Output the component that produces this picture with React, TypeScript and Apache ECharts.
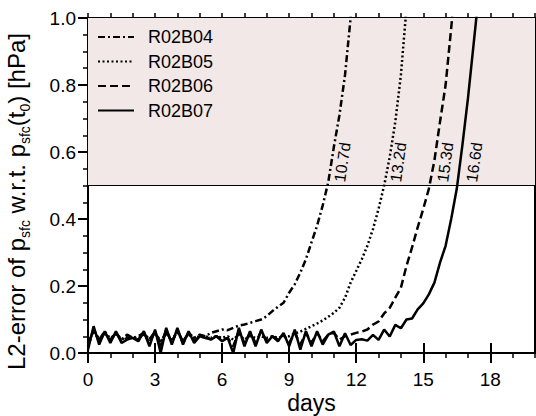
import React, { useEffect, useRef } from "react";
import * as echarts from "echarts";

// sampling times (days), 6-hourly output
const days = [
  0, 0.25, 0.5, 0.75, 1, 1.25, 1.5, 1.75, 2, 2.25, 2.5, 2.75, 3, 3.25, 3.5, 3.75,
  4, 4.25, 4.5, 4.75, 5, 5.25, 5.5, 5.75, 6, 6.25, 6.5, 6.75, 7, 7.25, 7.5, 7.75,
  8, 8.25, 8.5, 8.75, 9, 9.25, 9.5, 9.75, 10, 10.25, 10.5, 10.75, 11, 11.25, 11.5, 11.75,
  12, 12.25, 12.5, 12.75, 13, 13.25, 13.5, 13.75, 14, 14.25, 14.5, 14.75, 15, 15.25, 15.5, 15.75,
  16, 16.25, 16.5, 16.75, 17, 17.25, 17.5,
];

const r02b04 = [
  0.02, 0.07, 0.04, 0.065, 0.035, 0.06, 0.04, 0.055, 0.045, 0.05, 0.06, 0.04, 0.065, 0.03, 0.06, 0.035,
  0.065, 0.035, 0.06, 0.045, 0.055, 0.05,
  0.06, 0.065, 0.07, 0.068, 0.075, 0.082, 0.085, 0.09, 0.095, 0.1, 0.11, 0.125, 0.138, 0.15,
  0.18, 0.205, 0.24, 0.28, 0.33, 0.38, 0.44, 0.51, 0.615, 0.71, 0.83, 1.0, 1.2,
];

const r02b05 = [
  0.03, 0.065, 0.04, 0.06, 0.045, 0.055, 0.04, 0.05, 0.045, 0.045, 0.055, 0.04, 0.06, 0.035, 0.06, 0.04,
  0.06, 0.04, 0.055, 0.045, 0.05, 0.05, 0.045, 0.05, 0.045, 0.05, 0.04, 0.055, 0.04, 0.05, 0.045, 0.05,
  0.045, 0.05, 0.045, 0.05,
  0.05, 0.058, 0.064, 0.072, 0.08, 0.088, 0.097, 0.108, 0.12, 0.135, 0.165, 0.21, 0.245, 0.28, 0.32, 0.37,
  0.43, 0.5, 0.585, 0.69, 0.83, 1.03,
];

const r02b06 = [
  0.02, 0.07, 0.035, 0.06, 0.04, 0.06, 0.035, 0.045, 0.045, 0.04, 0.06, 0.03, 0.065, 0.02, 0.07, 0.03,
  0.07, 0.03, 0.06, 0.035, 0.05, 0.045, 0.045, 0.05, 0.04, 0.045, 0.02, 0.065, 0.03, 0.06, 0.03, 0.065,
  0.035, 0.05, 0.04, 0.055, 0.03, 0.06, 0.025, 0.06, 0.03, 0.06, 0.035, 0.055, 0.06, 0.04,
  0.05, 0.055, 0.06, 0.064, 0.07, 0.085, 0.094, 0.118, 0.135, 0.165, 0.195, 0.26, 0.315, 0.375, 0.43, 0.49,
  0.575, 0.69, 0.8, 0.97, 1.15,
];

const r02b07 = [
  0.01, 0.08, 0.025, 0.065, 0.03, 0.065, 0.03, 0.04, 0.045, 0.035, 0.065, 0.02, 0.07, 0.0, 0.075, 0.025,
  0.075, 0.025, 0.065, 0.03, 0.05, 0.045, 0.04, 0.05, 0.035, 0.045, 0.0, 0.075, 0.02, 0.065, 0.02, 0.07,
  0.03, 0.05, 0.035, 0.06, 0.02, 0.07, 0.01, 0.065, 0.02, 0.065, 0.025, 0.055, 0.064, 0.02, 0.059, 0.024,
  0.039, 0.041, 0.037, 0.054, 0.039, 0.07, 0.049, 0.084, 0.074, 0.1, 0.103, 0.13, 0.148, 0.175, 0.21, 0.27,
  0.32, 0.4, 0.49, 0.62, 0.76, 0.92, 1.08,
];

const seriesNames = ["R02B04", "R02B05", "R02B06", "R02B07"];
const seriesValues = [r02b04, r02b05, r02b06, r02b07];
const crossDays = [10.7, 13.2, 15.3, 16.6];
const threshold = 0.5;
const majorXTicks = [0, 3, 6, 9, 12, 15, 18];

const FONT = "'Liberation Sans', Arial, Helvetica, sans-serif";

const dashTypes: any[] = [[7, 3, 2, 3], [2, 2.5], [8, 4], "solid"];

export default function App() {
  const ref = useRef<HTMLDivElement>(null);

  useEffect(() => {
    if (!ref.current) return;
    const chart = echarts.init(ref.current, undefined, { renderer: "svg" });

    const axisLine = { show: true, onZero: false, lineStyle: { color: "#000", width: 2 } };

    const lineSeries = seriesNames.map((name, k) => ({
      name,
      type: "line",
      xAxisIndex: 0,
      yAxisIndex: 0,
      data: seriesValues[k].map((v, i) => [days[i], v]),
      showSymbol: false,
      symbol: "none",
      z: 3,
      lineStyle: { color: "#000", width: 2.5, type: dashTypes[k] },
      itemStyle: { color: "#000" },
      markPoint: {
        symbol: "circle",
        symbolSize: 1,
        itemStyle: { color: "rgba(0,0,0,0)" },
        silent: true,
        data: [
          {
            coord: [crossDays[k], threshold],
            label: {
              show: true,
              formatter: `${crossDays[k]}d`,
              rotate: 82,
              position: [13, -3],
              align: "left",
              verticalAlign: "middle",
              fontSize: 16,
              fontFamily: FONT,
              color: "#000",
            },
          },
        ],
      },
    }));

    const option: any = {
      animation: false,
      backgroundColor: "#fff",
      grid: { left: 88, right: 1, top: 18, bottom: 63, containLabel: false, outerBoundsMode: "none" },
      legend: {
        data: seriesNames,
        orient: "vertical",
        left: 97,
        top: 28,
        padding: 0,
        itemWidth: 36,
        itemHeight: 14,
        itemGap: 6.5,
        itemStyle: { color: "rgba(0,0,0,0)", borderColor: "rgba(0,0,0,0)", borderWidth: 0, opacity: 0 },
        textStyle: { fontSize: 18, lineHeight: 18, fontFamily: FONT, color: "#000", padding: [0, 0, 0, 9] },
        selectedMode: false,
      },
      xAxis: [
        {
          type: "value",
          position: "bottom",
          min: 0,
          max: 20,
          interval: 1,
          axisLine,
          axisTick: { show: true, length: 5, lineStyle: { color: "#000", width: 1.5 } },
          splitLine: { show: false },
          axisLabel: {
            customValues: majorXTicks,
            fontSize: 19,
            fontFamily: FONT,
            color: "#000",
            margin: 17,
          },
          name: "days",
          nameLocation: "middle",
          nameGap: 38,
          nameMoveOverlap: false,
          nameTextStyle: { fontSize: 23, lineHeight: 23, fontFamily: FONT, color: "#000" },
        },
        {
          type: "value",
          position: "bottom",
          min: 0,
          max: 20,
          interval: 3,
          axisLine: { show: false },
          axisTick: { show: true, customValues: majorXTicks, length: 10, lineStyle: { color: "#000", width: 2 } },
          axisLabel: { show: false },
          splitLine: { show: false },
        },
        {
          type: "value",
          position: "top",
          min: 0,
          max: 20,
          interval: 1,
          axisLine,
          axisTick: { show: true, length: 5, lineStyle: { color: "#000", width: 1.5 } },
          axisLabel: { show: false },
          splitLine: { show: false },
        },
        {
          type: "value",
          position: "top",
          min: 0,
          max: 20,
          interval: 3,
          axisLine: { show: false },
          axisTick: { show: true, customValues: majorXTicks, length: 10, lineStyle: { color: "#000", width: 2 } },
          axisLabel: { show: false },
          splitLine: { show: false },
        },
      ],
      yAxis: [
        {
          type: "value",
          position: "left",
          min: 0,
          max: 1,
          interval: 0.2,
          axisLine,
          axisTick: { show: true, length: 10, lineStyle: { color: "#000", width: 2 } },
          minorTick: { show: true, splitNumber: 4, length: 5, lineStyle: { color: "#000", width: 1.5 } },
          splitLine: { show: false },
          minorSplitLine: { show: false },
          axisLabel: {
            formatter: (v: number) => v.toFixed(1),
            fontSize: 19,
            fontFamily: FONT,
            color: "#000",
            margin: 12,
          },
          name: "{m|L2-error of p}{s|sfc}{m| w.r.t. p}{s|sfc}{m|(t}{s|0}{m|) [hPa]}{pad| }",
          nameLocation: "middle",
          nameGap: 56,
          nameTextStyle: {
            rich: {
              m: { fontSize: 24, lineHeight: 32, fontFamily: FONT, color: "#000", verticalAlign: "middle" },
              s: { fontSize: 14, lineHeight: 32, fontFamily: FONT, color: "#000", verticalAlign: "bottom" },
              pad: { fontSize: 24, lineHeight: 32, width: 32 },
            },
          },
        },
        {
          type: "value",
          position: "right",
          min: 0,
          max: 1,
          interval: 0.2,
          axisLine,
          axisTick: { show: false },
          axisLabel: { show: false },
          splitLine: { show: false },
        },
      ],
      series: [
        {
          name: "band",
          type: "line",
          data: [],
          z: 1,
          silent: true,
          markArea: {
            silent: true,
            itemStyle: { color: "#f2e8e8" },
            data: [[{ yAxis: threshold }, { yAxis: 1 }]],
          },
          markLine: {
            silent: true,
            symbol: "none",
            label: { show: false },
            lineStyle: { color: "#000", width: 1, type: "solid" },
            data: [{ yAxis: threshold }],
          },
        },
        ...lineSeries,
      ],
    };

    chart.setOption(option);
    return () => chart.dispose();
  }, []);

  return (
    <div
      ref={ref}
      style={{ position: "fixed", left: 0, top: 0, width: 536, height: 416, background: "#fff" }}
    />
  );
}
